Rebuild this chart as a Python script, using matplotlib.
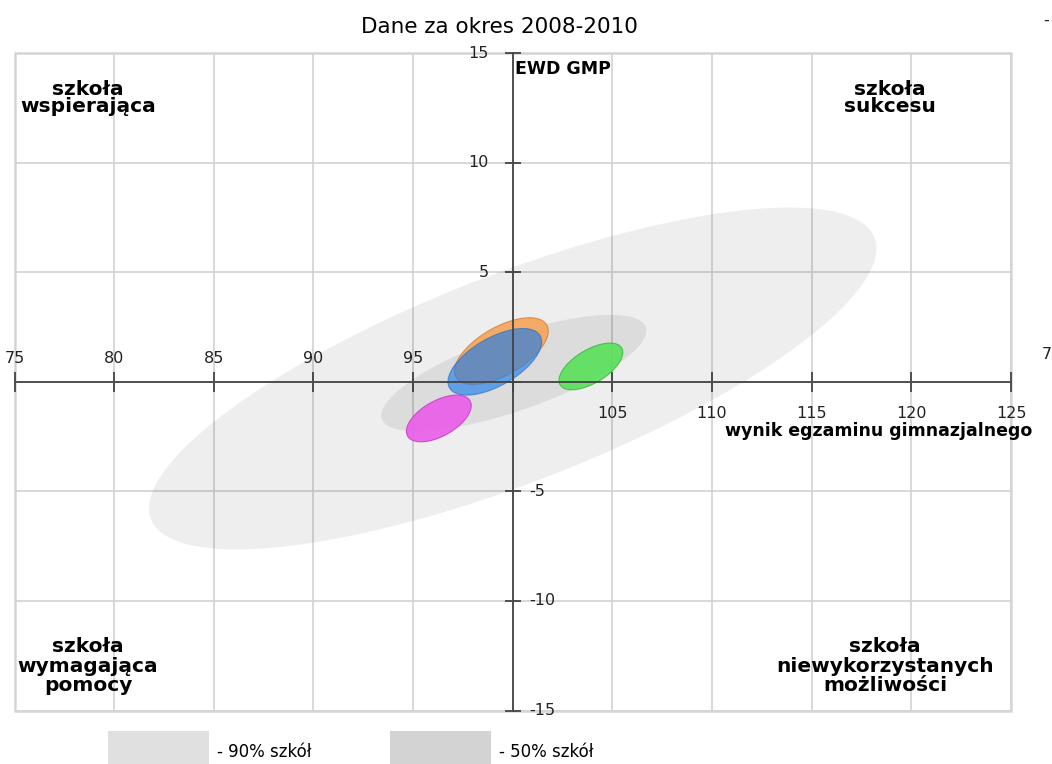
import numpy as np
import matplotlib
matplotlib.use("Agg")
import matplotlib.pyplot as plt
from matplotlib.patches import Rectangle

# grey bands: share of all schools (centre, spread in x / y, correlation)
band_names = ["90% szkół", "50% szkół"]
band_cx = [100.0, 100.05]
band_cy = [0.15, 0.40]
band_sx = [18.25, 6.65]
band_sy = [7.80, 2.65]
band_rho = [0.76, 0.73]

# school ellipses (drawn in this order, last on top)
sch_cx = [99.43, 99.10, 103.92, 96.29]
sch_cy = [1.40, 0.91, 0.70, -1.675]
sch_sx = [2.35, 2.35, 1.60, 1.625]
sch_sy = [1.52, 1.52, 1.065, 1.065]
sch_rho = [0.60, 0.60, 0.60, 0.55]

x_ticks = [75, 80, 85, 90, 95, 100, 105, 110, 115, 120, 125]
y_ticks = [-15, -10, -5, 0, 5, 10, 15]

title = "Dane za okres 2008-2010"
x_label = "wynik egzaminu gimnazjalnego"
y_label = "EWD GMP"
quadrants = ["szkoła\nwspierająca", "szkoła\nsukcesu",
             "szkoła\nwymagająca\npomocy", "szkoła\nniewykorzystanych\nmożliwości"]

band_fill = [("k", 0.065), ("k", 0.075)]
sch_fill = ["#f5a050", "#1e7deb", "#55e055", "#ea5cea"]
sch_edge = ["#d9823a", "#2a6fc4", "#3dbb3d", "#c743c7"]
sch_alpha = [0.85, 0.65, 0.88, 0.9]
AX_COL = "#444444"
GRID_COL = "#d2d2d2"

t = np.linspace(0, 2 * np.pi, 400)


def ellipse_xy(cx, cy, sx, sy, rho):
    x = cx + sx * np.cos(t)
    y = cy + sy * (rho * np.cos(t) + np.sqrt(1 - rho ** 2) * np.sin(t))
    return x, y


W, H = 1052, 764
fig = plt.figure(figsize=(W / 100, H / 100), dpi=100)
L, R, T, B = 14.5, 1011, 53, 710.5
ax = fig.add_axes([L / W, 1 - B / H, (R - L) / W, (B - T) / H])
ax.set_xlim(75, 125)
ax.set_ylim(-15, 15)

for i in range(len(band_names)):
    x, y = ellipse_xy(band_cx[i], band_cy[i], band_sx[i], band_sy[i], band_rho[i])
    ax.fill(x, y, color=band_fill[i][0], alpha=band_fill[i][1], lw=0, zorder=1)

for i in range(len(sch_cx)):
    x, y = ellipse_xy(sch_cx[i], sch_cy[i], sch_sx[i], sch_sy[i], sch_rho[i])
    ax.fill(x, y, facecolor=sch_fill[i], edgecolor=sch_edge[i], alpha=sch_alpha[i],
            lw=0.8, zorder=2)

# central axes with crossing ticks
ax.set_xticks(x_ticks)
ax.set_yticks(y_ticks)
ax.grid(True, color=GRID_COL, lw=1.2, zorder=0)
ax.set_axisbelow(True)
ax.spines["left"].set_position(("data", 100))
ax.spines["bottom"].set_position(("data", 0))
for s in ("top", "right"):
    ax.spines[s].set_visible(False)
for s in ("left", "bottom"):
    ax.spines[s].set_color(AX_COL)
    ax.spines[s].set_linewidth(1.3)
    ax.spines[s].set_zorder(3)
ax.tick_params(axis="x", direction="inout", length=14.4, width=1.3, color=AX_COL, labelbottom=False)
ax.tick_params(axis="y", direction="inout", length=12.2, width=1.3, color=AX_COL, labelleft=False)
ax.add_patch(Rectangle((0, 0), 1, 1, transform=ax.transAxes, fill=False,
                       ec="#d6d6d6", lw=1.8, zorder=0.5, clip_on=False))

px = 0.72  # points per pixel
for v in x_ticks:
    if v == 100:
        continue
    dy = 19 if v < 100 else -36
    ax.annotate(str(v), (v, 0), xytext=(0, dy * px), textcoords="offset points",
                ha="center", va="baseline", fontsize=11.5, color="#222222")
for v in y_ticks:
    if v == 0:
        continue
    if v > 0:
        ax.annotate(str(v), (100, v), xytext=(-24 * px, 0), textcoords="offset points",
                    ha="right", va="center", fontsize=11.5, color="#222222")
    else:
        ax.annotate(str(v), (100, v), xytext=(16 * px, 0), textcoords="offset points",
                    ha="left", va="center", fontsize=11.5, color="#222222")

ax.annotate(y_label, (100, 15), xytext=(2 * px, -21 * px), textcoords="offset points",
            ha="left", va="baseline", fontsize=12.5, fontweight="bold")
ax.annotate(x_label, (125, 0), xytext=(21 * px, -54 * px), textcoords="offset points",
            ha="right", va="baseline", fontsize=12.5, fontweight="bold", annotation_clip=False)

qpos = [(88, 98, 0.85), (890, 98, 0.85), (88, 666, 1.05), (885, 666, 1.05)]
for txt, (qx, qy, ls) in zip(quadrants, qpos):
    fig.text(qx / W, 1 - qy / H, txt, ha="center", va="center", multialignment="center",
             fontsize=14.5, fontweight="bold", linespacing=ls)

fig.text(499 / W, 1 - 27 / H, title, ha="center", va="center", fontsize=15.5)

# legend swatches
sw = [(108, "#e0e0e0"), (390, "#d3d3d3")]
for (sx0, col), name in zip(sw, band_names):
    fig.add_artist(Rectangle((sx0 / W, 0), 101 / W, 33 / H, transform=fig.transFigure,
                             color=col, lw=0))
    fig.text((sx0 + 109) / W, 1 - 752 / H, "- " + name, ha="left", va="center", fontsize=12)

# leftovers at the right edge of the original picture
fig.text(1042 / W, 1 - 355 / H, "7", ha="left", va="center", fontsize=11.5, color="#222222")
fig.text(1043 / W, 1 - 20 / H, "-", ha="left", va="center", fontsize=11.5, color="#222222")

fig.savefig("out.png", dpi=100)
